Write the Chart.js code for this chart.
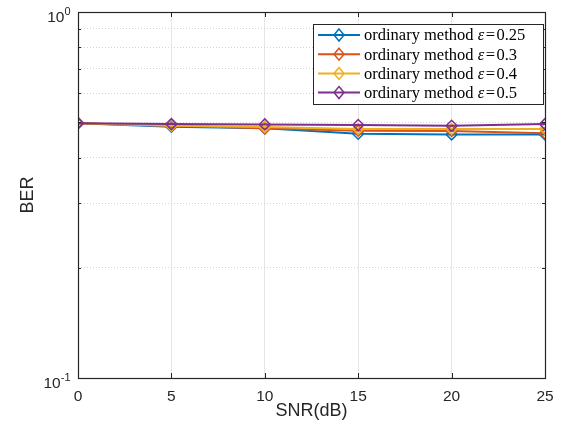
<!DOCTYPE html>
<html>
<head>
<meta charset="utf-8">
<script src="https://cdn.jsdelivr.net/npm/chart.js@4/dist/chart.umd.min.js"></script>
<style>
  html, body { margin: 0; padding: 0; background: #fff; }
  #wrap { width: 564px; height: 432px; }
</style>
</head>
<body>
<div id="wrap"><canvas id="c" width="564" height="432"></canvas></div>
<script>
// SNR points (dB)
const snr = [0, 5, 10, 15, 20, 25];
// epsilon values of each curve
const epsLabels = ['0.25', '0.3', '0.4', '0.5'];
// bit error rate per curve
const ber025 = [0.497, 0.486, 0.481, 0.465, 0.463, 0.463];
const ber030 = [0.497, 0.489, 0.481, 0.474, 0.473, 0.466];
const ber040 = [0.497, 0.489, 0.485, 0.479, 0.479, 0.479];
const ber050 = [0.497, 0.494, 0.493, 0.491, 0.489, 0.494];
// y-axis grid values (log decade) and labelled decades
const yGrid = [0.1, 0.2, 0.3, 0.4, 0.5, 0.6, 0.7, 0.8, 0.9, 1];
const yDecades = [{ value: 1, exp: '0' }, { value: 0.1, exp: '-1' }];
const xTicks = [0, 5, 10, 15, 20, 25];

const colors = ['#0072BD', '#D95319', '#EDB120', '#7E2F8E'];
const series = [ber025, ber030, ber040, ber050];
const INK = '#262626';
const SANS = '"Liberation Sans", Arial, Helvetica, sans-serif';
const SERIF = '"Liberation Serif", "DejaVu Serif", serif';

function diamond(ctx, x, y, rw, rh) {
  ctx.beginPath();
  ctx.moveTo(x, y - rh);
  ctx.lineTo(x + rw, y);
  ctx.lineTo(x, y + rh);
  ctx.lineTo(x - rw, y);
  ctx.closePath();
}

// Axes box, inward tick marks, decade labels and legend
const axesDecor = {
  id: 'axesDecor',
  afterDraw(chart) {
    const { ctx, chartArea: a, scales } = chart;
    const xs = scales.x, ys = scales.y;
    ctx.save();
    ctx.strokeStyle = INK;
    ctx.lineWidth = 1;
    // tick marks
    ctx.beginPath();
    xTicks.forEach(v => {
      const px = Math.round(xs.getPixelForValue(v)) + 0.5;
      ctx.moveTo(px, a.bottom); ctx.lineTo(px, a.bottom - 5);
      ctx.moveTo(px, a.top); ctx.lineTo(px, a.top + 5);
    });
    yGrid.forEach(v => {
      const py = Math.round(ys.getPixelForValue(v)) + 0.5;
      const len = (v === 1 || v === 0.1) ? 5 : 3;
      ctx.moveTo(a.left, py); ctx.lineTo(a.left + len, py);
      ctx.moveTo(a.right, py); ctx.lineTo(a.right - len, py);
    });
    ctx.stroke();
    // box
    ctx.lineWidth = 1.2;
    ctx.strokeRect(Math.round(a.left) + 0.5, Math.round(a.top) + 0.5,
                   Math.round(a.right - a.left), Math.round(a.bottom - a.top));

    // decade labels 10^k
    ctx.fillStyle = INK;
    ctx.textBaseline = 'alphabetic';
    yDecades.forEach(d => {
      const py = ys.getPixelForValue(d.value);
      ctx.font = '11px ' + SANS;
      const supW = ctx.measureText(d.exp).width;
      ctx.font = '15.5px ' + SANS;
      const baseW = ctx.measureText('10').width;
      const right = 70.5;
      ctx.textAlign = 'left';
      ctx.fillText('10', right - supW - baseW, py + 10);
      ctx.font = '11px ' + SANS;
      ctx.fillText(d.exp, right - supW, py + 3);
    });

    // legend
    const lx = 313.5, ly = 24.5, lw = 230, lh = 80;
    ctx.fillStyle = '#fff';
    ctx.fillRect(lx, ly, lw, lh);
    ctx.lineWidth = 1;
    ctx.strokeStyle = INK;
    ctx.strokeRect(lx, ly, lw, lh);
    epsLabels.forEach((eps, i) => {
      const cy = 35 + i * 19.2;
      ctx.strokeStyle = colors[i];
      ctx.lineWidth = 2;
      ctx.beginPath();
      ctx.moveTo(318, cy); ctx.lineTo(360, cy);
      ctx.stroke();
      ctx.lineWidth = 1.5;
      diamond(ctx, 339, cy, 5, 6);
      ctx.stroke();
      ctx.fillStyle = '#000';
      ctx.textAlign = 'left';
      ctx.textBaseline = 'middle';
      let tx = 364;
      const f = '16.5px ' + SERIF;
      ctx.font = f;
      const a1 = 'ordinary method ';
      ctx.fillText(a1, tx, cy + 1);
      tx += ctx.measureText(a1).width;
      ctx.font = 'italic ' + f;
      ctx.fillText('\u03B5', tx, cy + 1);
      tx += ctx.measureText('\u03B5').width + 1.5;
      ctx.font = f;
      ctx.fillText('=', tx, cy + 1);
      tx += ctx.measureText('=').width + 1.5;
      ctx.fillText(eps, tx, cy + 1);
    });
    ctx.restore();
  }
};

const datasets = series.map((vals, i) => ({
  label: 'ordinary method \u03B5=' + epsLabels[i],
  data: snr.map((s, k) => ({ x: s, y: vals[k] })),
  borderColor: colors[i],
  backgroundColor: colors[i],
  borderWidth: 2,
  pointStyle: 'rectRot',
  pointRadius: 5.5,
  pointBorderWidth: 1.5,
  pointBorderColor: colors[i],
  pointBackgroundColor: 'rgba(0,0,0,0)',
  tension: 0,
  order: series.length - i
}));

new Chart(document.getElementById('c'), {
  type: 'line',
  data: { datasets },
  plugins: [axesDecor],
  options: {
    responsive: false,
    animation: false,
    devicePixelRatio: 1,
    layout: { padding: { top: 12, right: 19, left: 0, bottom: 0 } },
    plugins: { legend: { display: false }, tooltip: { enabled: false } },
    scales: {
      x: {
        type: 'linear', min: 0, max: 25,
        afterBuildTicks: s => { s.ticks = xTicks.map(v => ({ value: v })); },
        ticks: { padding: 9, color: INK, maxRotation: 0, font: { family: SANS, size: 15.5 } },
        grid: {
          drawTicks: false, lineWidth: 1,
          color: c => (c.tick && (c.tick.value === 0 || c.tick.value === 25)) ? 'rgba(0,0,0,0)' : '#e6e6e6'
        },
        border: { display: false },
        title: { display: true, text: 'SNR(dB)', color: INK, font: { family: SANS, size: 18 }, padding: { top: 0, bottom: 10 } },
        afterFit: s => { s.height = 54; }
      },
      y: {
        type: 'logarithmic', min: 0.1, max: 1,
        afterBuildTicks: s => { s.ticks = yGrid.map(v => ({ value: v })); },
        ticks: { display: false },
        grid: {
          drawTicks: false, lineWidth: 1,
          color: c => (c.tick && (c.tick.value === 1 || c.tick.value === 0.1)) ? 'rgba(0,0,0,0)' : '#d4d4d4'
        },
        border: { display: false, dash: [1, 2] },
        title: { display: true, text: 'BER', color: INK, font: { family: SANS, size: 18 }, padding: { top: 17, bottom: 0 } },
        afterFit: s => { s.width = 78; }
      }
    }
  }
});
</script>
</body>
</html>
